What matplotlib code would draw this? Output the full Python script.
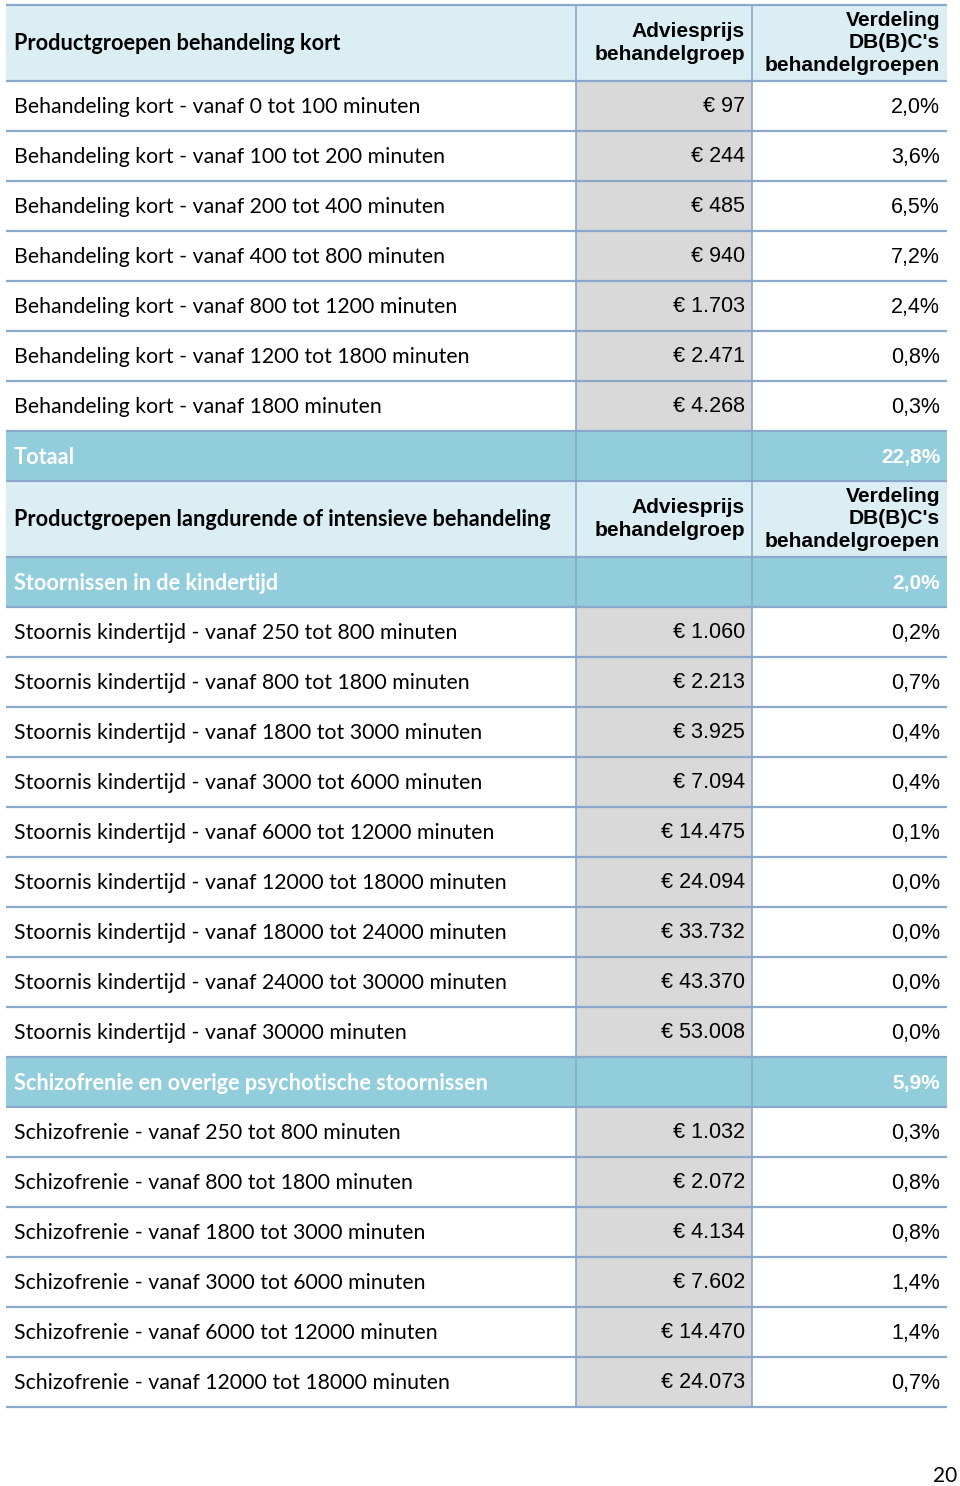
import matplotlib

matplotlib.use("Agg")
import matplotlib.pyplot as plt
from matplotlib.patches import Rectangle

# ---- data -------------------------------------------------------------
kort_labels = [
    "Behandeling kort - vanaf 0 tot 100 minuten",
    "Behandeling kort - vanaf 100 tot 200 minuten",
    "Behandeling kort - vanaf 200 tot 400 minuten",
    "Behandeling kort - vanaf 400 tot 800 minuten",
    "Behandeling kort - vanaf 800 tot 1200 minuten",
    "Behandeling kort - vanaf 1200 tot 1800 minuten",
    "Behandeling kort - vanaf 1800 minuten",
]
kort_prices = ["97", "244", "485", "940", "1.703", "2.471", "4.268"]
kort_shares = ["2,0%", "3,6%", "6,5%", "7,2%", "2,4%", "0,8%", "0,3%"]
kort_total = "22,8%"

kinder_title = "Stoornissen in de kindertijd"
kinder_total = "2,0%"
kinder_labels = [
    "Stoornis kindertijd - vanaf 250 tot 800 minuten",
    "Stoornis kindertijd - vanaf 800 tot 1800 minuten",
    "Stoornis kindertijd - vanaf 1800 tot 3000 minuten",
    "Stoornis kindertijd - vanaf 3000 tot 6000 minuten",
    "Stoornis kindertijd - vanaf 6000 tot 12000 minuten",
    "Stoornis kindertijd - vanaf 12000 tot 18000 minuten",
    "Stoornis kindertijd - vanaf 18000 tot 24000 minuten",
    "Stoornis kindertijd - vanaf 24000 tot 30000 minuten",
    "Stoornis kindertijd - vanaf 30000 minuten",
]
kinder_prices = ["1.060", "2.213", "3.925", "7.094", "14.475", "24.094",
                 "33.732", "43.370", "53.008"]
kinder_shares = ["0,2%", "0,7%", "0,4%", "0,4%", "0,1%", "0,0%", "0,0%",
                 "0,0%", "0,0%"]

schizo_title = "Schizofrenie en overige psychotische stoornissen"
schizo_total = "5,9%"
schizo_labels = [
    "Schizofrenie - vanaf 250 tot 800 minuten",
    "Schizofrenie - vanaf 800 tot 1800 minuten",
    "Schizofrenie - vanaf 1800 tot 3000 minuten",
    "Schizofrenie - vanaf 3000 tot 6000 minuten",
    "Schizofrenie - vanaf 6000 tot 12000 minuten",
    "Schizofrenie - vanaf 12000 tot 18000 minuten",
]
schizo_prices = ["1.032", "2.072", "4.134", "7.602", "14.470", "24.073"]
schizo_shares = ["0,3%", "0,8%", "0,8%", "1,4%", "1,4%", "0,7%"]

col_heads = ["Adviesprijs\nbehandelgroep", "Verdeling\nDB(B)C's\nbehandelgroepen"]
page_no = "20"

# ---- style ------------------------------------------------------------
HEAD_BG = "#dbeef4"
GROUP_BG = "#92cddc"
GREY = "#d9d9d9"
LINE = "#8aa7cc"
LEFT_FONT = ["Lato", "DejaVu Sans"]
NUM_FONT = ["Liberation Sans", "DejaVu Sans"]

X0, X1, X2, X3 = 6, 576, 752, 947
HEAD_H, ROW_H = 76, 50

rows = [("head", "Productgroepen behandeling kort", None, None)]
rows += [("data", l, p, s) for l, p, s in zip(kort_labels, kort_prices, kort_shares)]
rows += [("group", "Totaal", None, kort_total)]
rows += [("head", "Productgroepen langdurende of intensieve behandeling", None, None)]
rows += [("group", kinder_title, None, kinder_total)]
rows += [("data", l, p, s) for l, p, s in zip(kinder_labels, kinder_prices, kinder_shares)]
rows += [("group", schizo_title, None, schizo_total)]
rows += [("data", l, p, s) for l, p, s in zip(schizo_labels, schizo_prices, schizo_shares)]

fig = plt.figure(figsize=(9.6, 14.86), dpi=100)
ax = fig.add_axes([0, 0, 1, 1])
ax.set_xlim(0, 960)
ax.set_ylim(1486, 0)
ax.axis("off")

y = 5
for kind, label, price, share in rows:
    h = HEAD_H if kind == "head" else ROW_H
    yc = y + h / 2
    if kind == "head":
        ax.add_patch(Rectangle((X0, y), X3 - X0, h, color=HEAD_BG, lw=0))
        ax.text(14, yc + 1, label, family=LEFT_FONT, fontsize=15.6, fontweight="bold",
                ha="left", va="center", color="black")
        ax.text(745, yc, col_heads[0], family=NUM_FONT, fontsize=15.1, fontweight="bold",
                ha="right", va="center", linespacing=1.25)
        ax.text(940, yc, col_heads[1], family=NUM_FONT, fontsize=15.1, fontweight="bold",
                ha="right", va="center", linespacing=1.25)
    elif kind == "group":
        ax.add_patch(Rectangle((X0, y), X3 - X0, h, color=GROUP_BG, lw=0))
        ax.text(14, yc + 1, label, family=LEFT_FONT, fontsize=15.6, fontweight="bold",
                ha="left", va="center", color="white")
        ax.text(940, yc + 1, share, family=NUM_FONT, fontsize=15, fontweight="bold",
                ha="right", va="center", color="white")
    else:
        ax.add_patch(Rectangle((X1, y), X2 - X1, h, color=GREY, lw=0))
        ax.text(14, yc + 1, label, family=LEFT_FONT, fontsize=15.3,
                ha="left", va="center", color="black")
        ax.text(745, yc + 1, "\u20ac " + price, family=NUM_FONT, fontsize=15.5,
                ha="right", va="center", color="black")
        ax.text(940, yc + 1, share, family=NUM_FONT, fontsize=15.5,
                ha="right", va="center", color="black")
    ax.plot([X0, X3], [y, y], color=LINE, lw=1.6, solid_capstyle="butt")
    y += h
ax.plot([X0, X3], [y, y], color=LINE, lw=1.6, solid_capstyle="butt")
for xv in (X1, X2):
    ax.plot([xv, xv], [5, y], color=LINE, lw=1.2, solid_capstyle="butt")

ax.text(957, 1476, page_no, family=LEFT_FONT, fontsize=15, ha="right", va="center")

fig.savefig("out.png", dpi=100)
